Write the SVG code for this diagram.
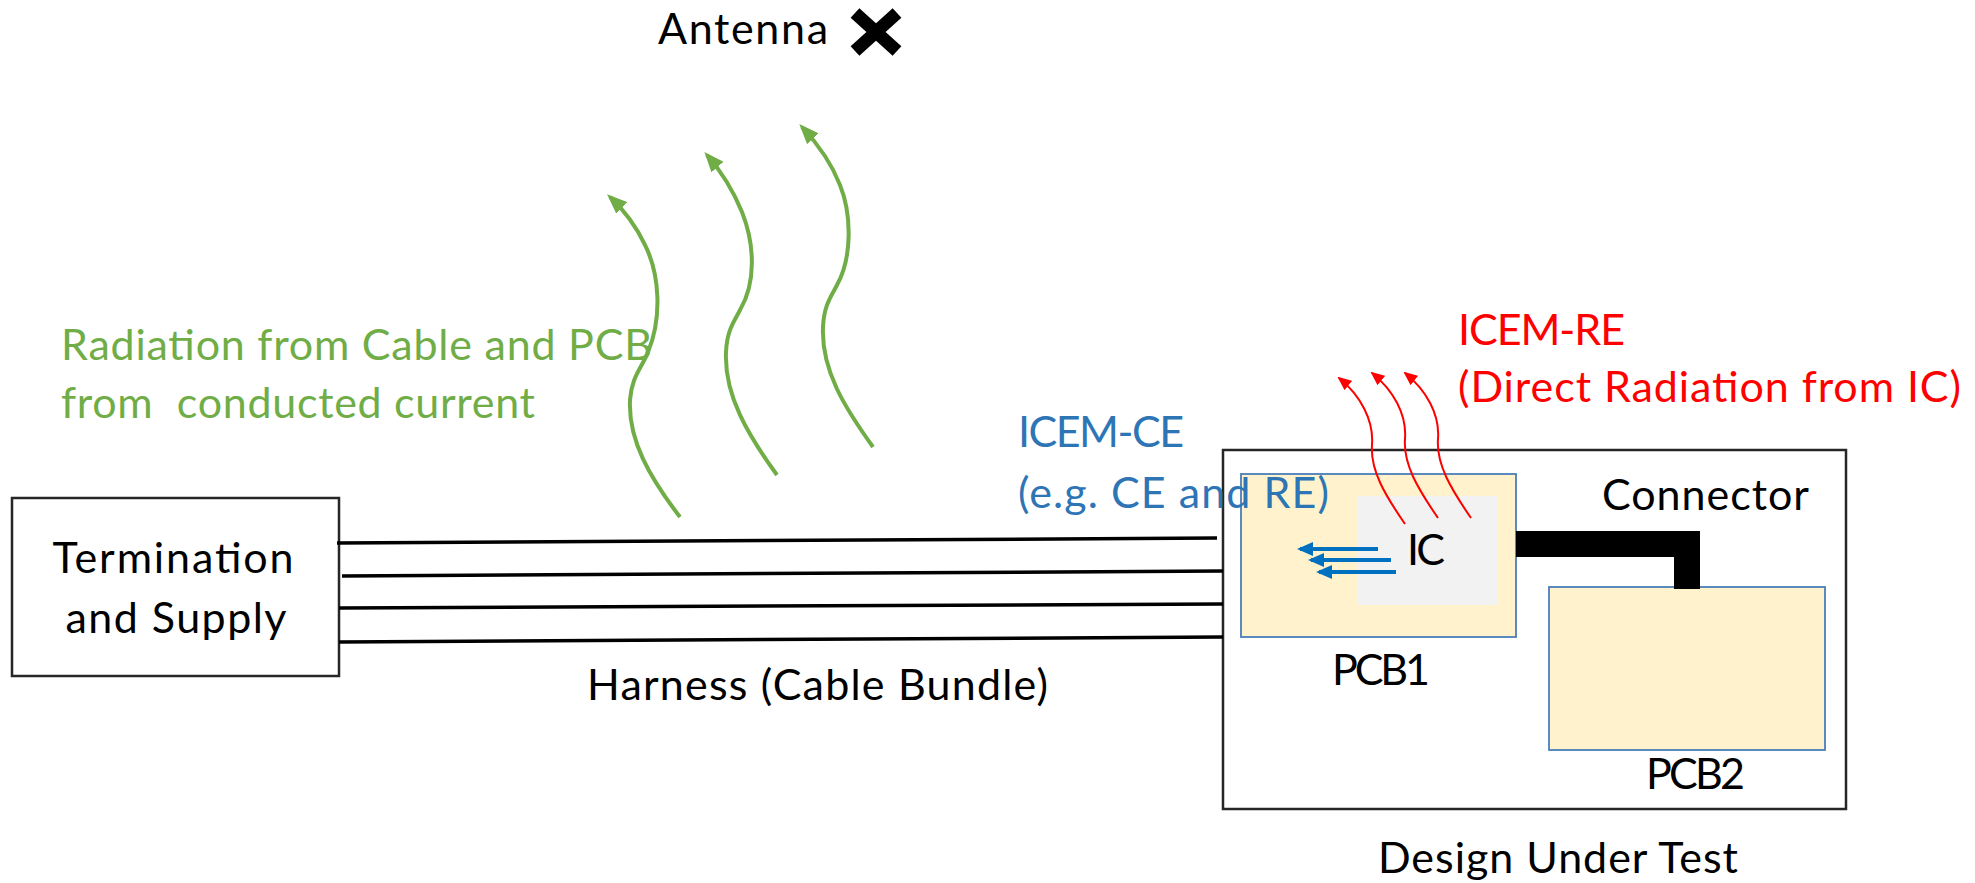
<svg xmlns="http://www.w3.org/2000/svg" width="1975" height="883" viewBox="0 0 1975 883">
<style>
text{font-family:Lato,"Liberation Sans",sans-serif;font-size:43px;fill:#000}
.g{fill:#70AD47}.b{fill:#2E75B6}.r{fill:#FF0000}
.box{fill:#fff;stroke:#262626;stroke-width:2.5}
.pcb{fill:#FFF2CC;stroke:#4A7EBB;stroke-width:1.8}
.wire{stroke:#000;stroke-width:3.5;fill:none}
.garr{fill:none;stroke:#70AD47;stroke-width:4;marker-end:url(#ga)}
.rarr{fill:none;stroke:#FF0000;stroke-width:2;marker-end:url(#ra)}
.barr{fill:none;stroke:#0070C0;stroke-width:4;marker-end:url(#ba)}
</style>
<defs>
<marker id="ga" viewBox="0 0 20 16" refX="16" refY="8" markerWidth="20" markerHeight="16" orient="auto" markerUnits="userSpaceOnUse"><path d="M0,0 L20,8 L0,16 z" fill="#70AD47"/></marker>
<marker id="ra" viewBox="0 0 14 12" refX="12" refY="6" markerWidth="14" markerHeight="12" orient="auto" markerUnits="userSpaceOnUse"><path d="M0,0 L14,6 L0,12 z" fill="#FF0000"/></marker>
<marker id="ba" viewBox="0 0 16 14" refX="13" refY="7" markerWidth="16" markerHeight="14" orient="auto" markerUnits="userSpaceOnUse"><path d="M0,0 L16,7 L0,14 z" fill="#0070C0"/></marker>
</defs>
<rect width="1975" height="883" fill="#fff"/>

<g id="antenna">
<text x="658" y="44" textLength="170" lengthAdjust="spacing">Antenna</text>
<line x1="855" y1="13" x2="897" y2="51" stroke="#000" stroke-width="13"/>
<line x1="897" y1="13" x2="855" y2="51" stroke="#000" stroke-width="13"/>
</g>

<g id="termination">
<rect class="box" x="12" y="498" width="327" height="178"/>
<text x="173" y="573" text-anchor="middle" textLength="241" lengthAdjust="spacing">Termination</text>
<text x="176" y="633" text-anchor="middle" textLength="221" lengthAdjust="spacing">and Supply</text>
</g>

<g id="dut">
<rect class="box" x="1223" y="450" width="623" height="359"/>
<text x="1378" y="873" textLength="360" lengthAdjust="spacing">Design Under Test</text>
</g>

<g id="pcb1">
<rect class="pcb" x="1241" y="474" width="275" height="163"/>
<text x="1332" y="685" textLength="98" lengthAdjust="spacing">PCB1</text>
</g>

<g id="ic">
<rect x="1358" y="496" width="140" height="109" fill="#F2F2F2"/>
<text x="1407" y="565" textLength="38" lengthAdjust="spacing">IC</text>
</g>

<g id="pcb2">
<rect class="pcb" x="1549" y="587" width="276" height="163"/>
<text x="1646" y="789" textLength="99" lengthAdjust="spacing">PCB2</text>
</g>

<g id="connector">
<path d="M1516,531 H1700 V589 H1674 V557 H1516 z" fill="#000"/>
<text x="1602" y="510" textLength="207" lengthAdjust="spacing">Connector</text>
</g>

<g id="labels">
<text class="g" x="61" y="360" textLength="591" lengthAdjust="spacing">Radiation from Cable and PCB</text>
<text class="g" x="61" y="418" xml:space="preserve" textLength="474" lengthAdjust="spacing">from  conducted current</text>
<text class="b" x="1018" y="447" textLength="166" lengthAdjust="spacing">ICEM-CE</text>
<text class="b" x="1018" y="508" textLength="311" lengthAdjust="spacing">(e.g. CE and RE)</text>
<text class="r" x="1458" y="345" textLength="167" lengthAdjust="spacing">ICEM-RE</text>
<text class="r" x="1458" y="402" textLength="503" lengthAdjust="spacing">(Direct Radiation from IC)</text>
<text x="587" y="700" textLength="461" lengthAdjust="spacing">Harness (Cable Bundle)</text>
</g>

<g id="connectors">
<line class="wire" x1="337" y1="543" x2="1217" y2="538"/>
<line class="wire" x1="342" y1="576" x2="1223" y2="571"/>
<line class="wire" x1="339" y1="608" x2="1223" y2="604"/>
<line class="wire" x1="339" y1="642" x2="1223" y2="637"/>
<path class="garr" d="M680,517 C650,478 628,440 630,400 C632,375 642,368 648,352 C662,318 660,275 645,245 C636,226 624,210 610,197"/>
<path class="garr" d="M777,475 C748,435 724,395 726,352 C727,330 734,322 740,310 C756,283 755,245 742,212 C733,190 720,170 707,155"/>
<path class="garr" d="M873,447 C845,408 821,370 823,327 C824,305 831,297 837,285 C852,258 852,215 840,185 C831,162 816,142 802,127"/>
<path class="rarr" d="M1405,524 C1385,495 1370,470 1372,445 C1374,420 1360,395 1339,378"/>
<path class="rarr" d="M1438,518 C1418,489 1403,464 1405,439 C1407,414 1393,390 1372,373"/>
<path class="rarr" d="M1471,518 C1451,489 1436,464 1438,439 C1440,414 1426,390 1405,373"/>
<line class="barr" x1="1378" y1="549" x2="1300" y2="549"/>
<line class="barr" x1="1391" y1="560" x2="1311" y2="560"/>
<line class="barr" x1="1396" y1="572" x2="1319" y2="572"/>
</g>
</svg>
